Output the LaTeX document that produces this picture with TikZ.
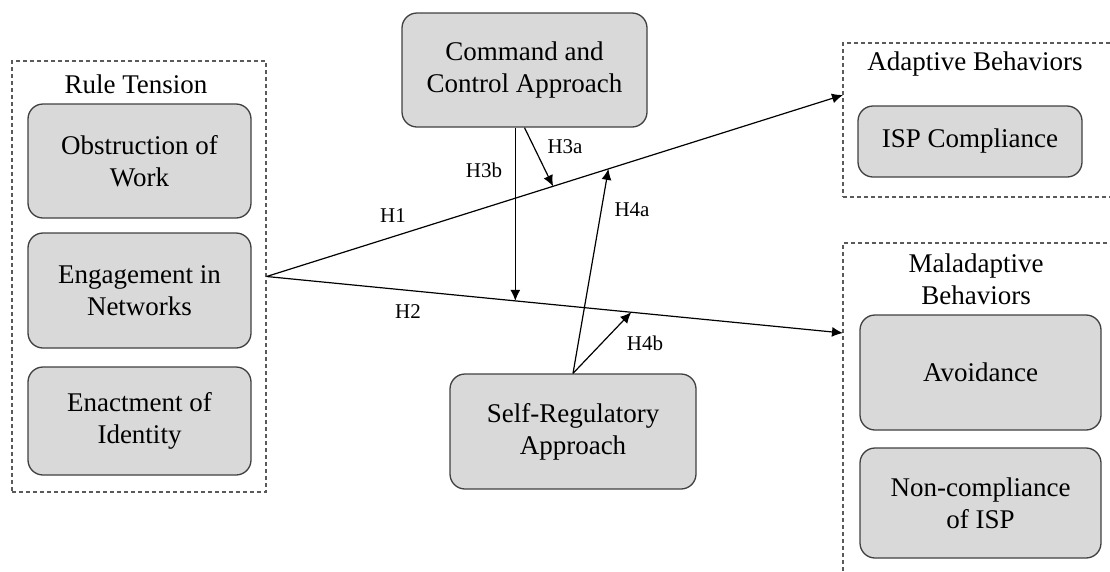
\documentclass[tikz,border=0pt]{standalone}
\usepackage{fontspec}
\setmainfont{Liberation Serif}
\usepackage{xcolor}
\usetikzlibrary{arrows.meta,positioning,calc}
\definecolor{boxfill}{HTML}{D9D9D9}
\definecolor{boxline}{HTML}{404040}
\definecolor{grpline}{HTML}{5A5A5A}

\begin{document}
\begin{tikzpicture}[x=1pt,y=-1pt,>={Latex[length=11pt,width=10pt]},
  bx/.style={draw=boxline,fill=boxfill,line width=1.3pt,rounded corners=15pt,align=center,inner sep=0pt,font=\fontsize{27}{32}\selectfont},
  grp/.style={draw=grpline,line width=1.2pt,dash pattern=on 4pt off 3pt,inner sep=0pt},
  ttl/.style={align=center,font=\fontsize{27}{32}\selectfont},
  ar/.style={->,line width=1.2pt,black},lab/.style={font=\fontsize{21}{24}\selectfont}]
\useasboundingbox (0,0) rectangle (1110,571);
\clip (0,0) rectangle (1110,571);
% groups
\node[grp,minimum width=254pt,minimum height=431pt] (rt) at (139,276.5) {};
\node[ttl] at (136,84) {Rule Tension};
\node[grp,minimum width=277pt,minimum height=154pt] (ab) at (981.5,120) {};
\node[ttl] at (975,64) {Adaptive Behaviors};
\node[grp,minimum width=277pt,minimum height=347pt] (mb) at (981.5,416.5) {};
\node[ttl] at (976,279) {Maladaptive\\Behaviors};
% constructs
\node[bx,minimum width=223pt,minimum height=114pt] (ow) at (139.5,161) {Obstruction of\\Work};
\node[bx,minimum width=223pt,minimum height=115pt] (en) at (139.5,290.5) {Engagement in\\Networks};
\node[bx,minimum width=223pt,minimum height=108pt] (ei) at (139.5,421) {Enactment of\\Identity};
\node[bx,minimum width=245pt,minimum height=114pt] (cc) at (524.5,70) {Command and\\Control Approach};
\node[bx,minimum width=246pt,minimum height=115pt] (sr) at (573,431.5) {Self-Regulatory\\Approach};
\node[bx,minimum width=224pt,minimum height=71pt] (isp) at (970,141.5) {ISP Compliance};
\node[bx,minimum width=241pt,minimum height=115pt] (av) at (980.5,372.5) {Avoidance};
\node[bx,minimum width=241pt,minimum height=110pt] (nc) at (980.5,503) {Non-compliance\\of ISP};
% paths
\coordinate (h1e) at (843,95);
\coordinate (h2e) at (843,333);
\draw[ar] (rt.east) -- (h1e);
\draw[ar] (rt.east) -- (h2e);
\coordinate (p3a) at ($(rt.east)!0.497!(h1e)$);
\coordinate (p3b) at ($(rt.east)!0.4315!(h2e)$);
\coordinate (p4a) at ($(rt.east)!0.593!(h1e)$);
\coordinate (p4b) at ($(rt.east)!0.6326!(h2e)$);
\draw[ar] (p3b |- cc.south) -- (p3b);
\draw[ar] (cc.south) -- (p3a);
\draw[ar] (sr.north) -- (p4a);
\draw[ar] (sr.north) -- (p4b);
\node[lab] at (393,216) {H1};
\node[lab] at (408,312) {H2};
\node[lab] at (565,147) {H3a};
\node[lab] at (484,170) {H3b};
\node[lab] at (632,210) {H4a};
\node[lab] at (645,343) {H4b};
\end{tikzpicture}
\end{document}
